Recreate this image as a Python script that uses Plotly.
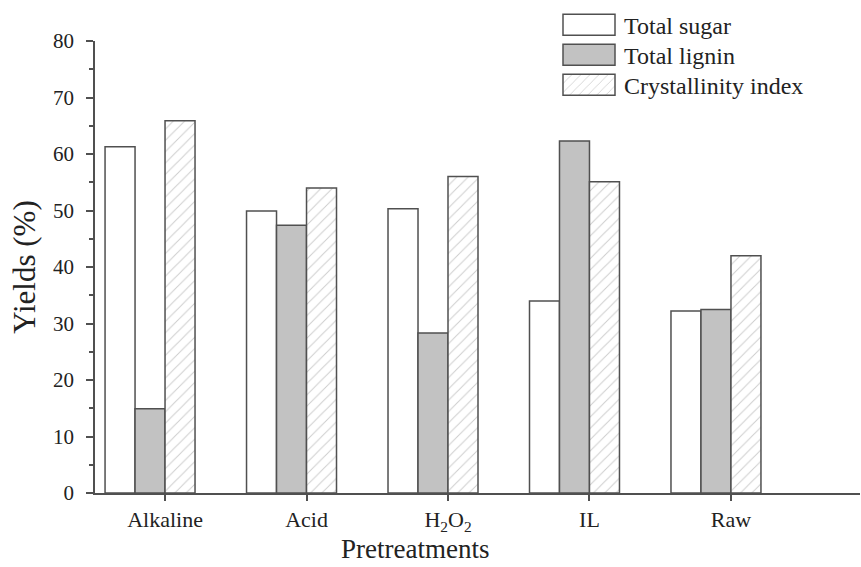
import plotly.graph_objects as go

# Pretreatment categories and measured yields (%)
categories = ["Alkaline", "Acid", "H<sub>2</sub>O<sub>2</sub>", "IL", "Raw"]
total_sugar = [61.3, 49.9, 50.3, 34.0, 32.2]
total_lignin = [14.9, 47.4, 28.3, 62.3, 32.5]
crystallinity_index = [65.9, 54.0, 56.0, 55.1, 42.0]
y_ticks = [0, 10, 20, 30, 40, 50, 60, 70, 80]

FONT = "Liberation Serif"
EDGE = "#505050"
INK = "#222222"

pos = list(range(len(categories)))
bar_w = 0.212  # width of a single bar in category units

fig = go.Figure()
fig.add_bar(
    x=pos, y=total_sugar, name="Total sugar",
    marker=dict(color="white", line=dict(color=EDGE, width=1.5)),
)
fig.add_bar(
    x=pos, y=total_lignin, name="Total lignin",
    marker=dict(color="#c2c2c2", line=dict(color=EDGE, width=1.5)),
)
fig.add_bar(
    x=pos, y=crystallinity_index, name="Crystallinity index",
    marker=dict(
        color="white",
        line=dict(color=EDGE, width=1.5),
        pattern=dict(shape="/", fgcolor="#9a9a9a", bgcolor="white",
                     size=8, solidity=0.12),
    ),
)

fig.update_layout(
    width=861, height=567,
    margin=dict(l=95, r=1, t=41, b=74),
    barmode="group", bargap=1 - 3 * bar_w, bargroupgap=0,
    plot_bgcolor="white", paper_bgcolor="white",
    font=dict(family=FONT, color=INK, size=20),
    showlegend=True,
    legend=dict(
        x=0.6, y=1.085, xanchor="left", yanchor="top",
        bgcolor="rgba(0,0,0,0)", font=dict(family=FONT, size=24, color=INK),
        itemwidth=60, tracegroupgap=0,
    ),
    xaxis=dict(
        range=[-0.389, 5.018],
        tickvals=[p + bar_w / 2 for p in pos], ticktext=categories,
        showline=True, linecolor=EDGE, linewidth=1.5,
        ticks="outside", ticklen=6, tickwidth=1.5, tickcolor=EDGE,
        tickfont=dict(family=FONT, size=22, color=INK),
        showgrid=False, zeroline=False,
    ),
    yaxis=dict(
        range=[0, 80], tickvals=y_ticks,
        showline=True, linecolor=EDGE, linewidth=1.5,
        ticks="outside", ticklen=7, tickwidth=1.5, tickcolor=EDGE,
        minor=dict(dtick=5, ticks="outside", ticklen=4, tickwidth=1.5, tickcolor=EDGE),
        tickfont=dict(family=FONT, size=21, color=INK),
        ticklabelstandoff=8,
        showgrid=False, zeroline=False,
        title=dict(text="Yields (%)", font=dict(family=FONT, size=31, color=INK), standoff=8),
    ),
    annotations=[
        dict(
            text="Pretreatments", xref="paper", yref="paper",
            x=0.418, y=-0.161, xanchor="center", yanchor="bottom",
            showarrow=False, font=dict(family=FONT, size=27, color=INK),
        )
    ],
)

# Wider rectangular swatches and tighter row spacing in the legend
legend_js = """
var gd = document.getElementById('{plot_id}');
function styleLegend() {
  var rows = gd.querySelectorAll('.legend .traces');
  if (!rows.length) return;
  var m = /translate\\(([-\\d.]+)[ ,]+([-\\d.]+)\\)/.exec(rows[0].getAttribute('transform') || '');
  var x0 = m ? parseFloat(m[1]) : 0;
  var y0 = m ? parseFloat(m[2]) : 0;
  rows.forEach(function (row, i) {
    row.setAttribute('transform', 'translate(' + x0 + ',' + (y0 + 30 * i) + ')');
    row.querySelectorAll('.legendpoints path').forEach(function (p) {
      p.setAttribute('d', 'M26,10.5H-26V-10.5H26Z');
    });
  });
}
styleLegend();
gd.on('plotly_afterplot', styleLegend);
"""

fig.write_html("out.html", post_script=legend_js)
